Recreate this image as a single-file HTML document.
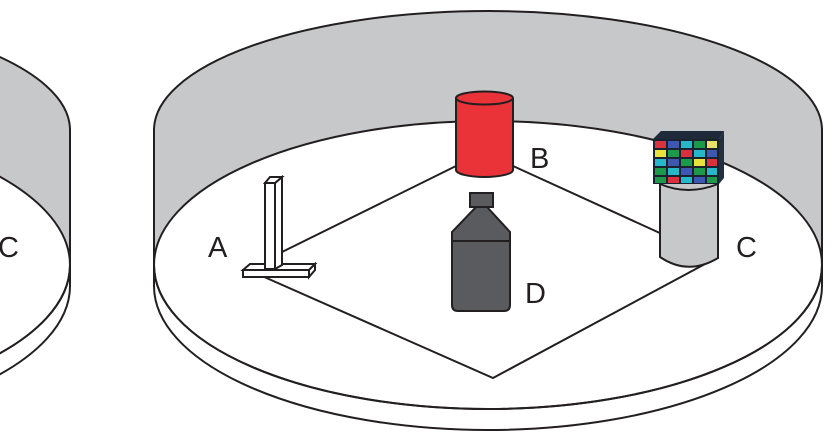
<!DOCTYPE html>
<html><head><meta charset="utf-8"><style>
html,body{margin:0;padding:0;background:#fff;}
svg{display:block}
text{font-family:"Liberation Sans",Arial,sans-serif;font-size:29px;fill:#231f20}
</style></head><body>
<svg width="836" height="434" viewBox="0 0 836 434" xmlns="http://www.w3.org/2000/svg">
<g stroke="#231f20" stroke-width="2" fill="none">
<!-- left partial cylinder -->
<g transform="translate(-752,0)">
<path d="M154,265 A334,144 0 0 0 822,265 L822,286 A334,144 0 0 1 154,286 Z" fill="#fff"/>
<path d="M154,130 A334,119 0 0 1 822,130 L822,265 A334,144 0 0 0 154,265 Z" fill="#c7c8ca"/>
<path d="M154,265 A334,144 0 0 0 822,265" />
</g>
<!-- right cylinder -->
<path d="M154,265 A334,144 0 0 0 822,265 L822,286 A334,144 0 0 1 154,286 Z" fill="#fff"/>
<path d="M154,130 A334,119 0 0 1 822,130 L822,265 A334,144 0 0 0 154,265 Z" fill="#c7c8ca"/>
<path d="M154,265 A334,144 0 0 0 822,265" />
<!-- path lines -->
<polyline points="282,252 456,166" />
<polyline points="513,166 662,234" />
<polyline points="705,264 493,378 262,276" />
<!-- A stand -->
<path d="M243,270 L250,264 L315,264 L309,270 Z" fill="#fff"/>
<path d="M243,270 L309,270 L309,277 L243,277 Z" fill="#fff"/>
<path d="M309,270 L315,264 L315,270 L309,277 Z" fill="#fff"/>
<path d="M265,183 L275,183 L275,269 L265,269 Z" fill="#fff"/>
<path d="M275,183 L282,177 L282,265 L275,269 Z" fill="#fff"/>
<path d="M265,183 L270,177 L282,177 L275,183 Z" fill="#fff"/>
<!-- B red cylinder -->
<path d="M456,98 L456,170 A28.5,7 0 0 0 513,170 L513,98" fill="#ea3339"/>
<ellipse cx="484.5" cy="98" rx="28.5" ry="6.5" fill="#ea3339"/>
<!-- D bottle -->
<rect x="470" y="193" width="23" height="14" fill="#5a5b5f"/>
<path d="M476,207 L487,207 L510,232 L510,305 Q510,311 504,311 L458,311 Q452,311 452,305 L452,232 Z" fill="#5a5b5f"/>
<line x1="452" y1="241" x2="510" y2="241"/>
<!-- C gray cylinder -->
<path d="M660,182 L660,257 Q688,276 718,258 L718,182 Z" fill="#c7c8ca"/>
<path d="M660,184 Q688,196 718,184" />
</g>
<!-- cube -->
<g>
<path d="M653,139 L661,131 L724,131 L719,139 Z" fill="#1e2a3a"/>
<path d="M719,139 L724,131 L724,178 L719,184 Z" fill="#233040"/>
<rect x="653" y="139" width="66" height="45" fill="#1a2230"/>
<g>
<rect x="655" y="141" width="11" height="7" fill="#d9323e"/><rect x="668" y="141" width="11" height="7" fill="#3c58b0"/><rect x="681" y="141" width="11" height="7" fill="#27b7c9"/><rect x="694" y="141" width="11" height="7" fill="#1c9a4a"/><rect x="707" y="141" width="10" height="7" fill="#e8e26a"/>
<rect x="655" y="150" width="11" height="7" fill="#e8e23c"/><rect x="668" y="150" width="11" height="7" fill="#1c9a4a"/><rect x="681" y="150" width="11" height="7" fill="#d9323e"/><rect x="694" y="150" width="11" height="7" fill="#27b7c9"/><rect x="707" y="150" width="10" height="7" fill="#3c58b0"/>
<rect x="655" y="159" width="11" height="7" fill="#27b7c9"/><rect x="668" y="159" width="11" height="7" fill="#3c58b0"/><rect x="681" y="159" width="11" height="7" fill="#1c9a4a"/><rect x="694" y="159" width="11" height="7" fill="#e8e23c"/><rect x="707" y="159" width="10" height="7" fill="#d9323e"/>
<rect x="655" y="168" width="11" height="7" fill="#1c9a4a"/><rect x="668" y="168" width="11" height="7" fill="#27b7c9"/><rect x="681" y="168" width="11" height="7" fill="#3c58b0"/><rect x="694" y="168" width="11" height="7" fill="#1c9a4a"/><rect x="707" y="168" width="10" height="7" fill="#27b7c9"/>
<rect x="655" y="177" width="11" height="6" fill="#1c9a4a"/><rect x="668" y="177" width="11" height="6" fill="#d9323e"/><rect x="681" y="177" width="11" height="6" fill="#27b7c9"/><rect x="694" y="177" width="11" height="6" fill="#3c58b0"/><rect x="707" y="177" width="10" height="6" fill="#1c9a4a"/>
</g>
</g>
<!-- labels -->
<text x="-2" y="257">C</text>
<text x="208" y="257">A</text>
<text x="530" y="168">B</text>
<text x="525" y="303">D</text>
<text x="736" y="257">C</text>
</svg>
</body></html>
